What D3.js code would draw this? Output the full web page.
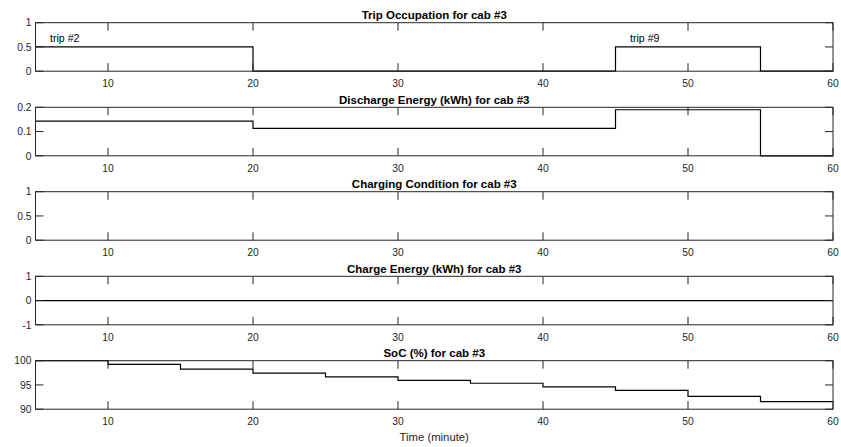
<!DOCTYPE html>
<html>
<head>
<meta charset="utf-8">
<script src="https://cdn.jsdelivr.net/npm/d3@7"></script>
<style>
  html, body { margin: 0; padding: 0; background: #fff; }
  svg { display: block; font-family: "Liberation Sans", Arial, sans-serif; }
</style>
</head>
<body>
<svg id="chart" width="841" height="447"></svg>
<script>
// Step start times (minutes); each value holds until the next time, last step ends at 60
const times = [5, 10, 15, 20, 25, 30, 35, 40, 45, 50, 55, 60];
const tripOccupation = [0.5, 0.5, 0.5, 0, 0, 0, 0, 0, 0.5, 0.5, 0, 0];
const dischargeEnergy = [0.143, 0.143, 0.143, 0.113, 0.113, 0.113, 0.113, 0.113, 0.19, 0.19, 0, 0];
const chargingCondition = [0, 0, 0, 0, 0, 0, 0, 0, 0, 0, 0, 0];
const chargeEnergy = [0, 0, 0, 0, 0, 0, 0, 0, 0, 0, 0, 0];
const soc = [100, 99.25, 98.25, 97.45, 96.65, 95.95, 95.35, 94.6, 93.9, 92.65, 91.55, 91.55];

const titles = [
  "Trip Occupation for cab #3",
  "Discharge Energy (kWh) for cab #3",
  "Charging Condition for cab #3",
  "Charge Energy (kWh) for cab #3",
  "SoC (%) for cab #3"
];
const yDomains = [[0, 1], [0, 0.2], [0, 1], [-1, 1], [90, 100]];
const yTicks = [[0, 0.5, 1], [0, 0.1, 0.2], [0, 0.5, 1], [-1, 0, 1], [90, 95, 100]];
const xTicks = [10, 20, 30, 40, 50, 60];
const tripLabels = ["trip #2", "trip #9"];
const tripLabelAt = [[6.0, 0.69], [46.0, 0.69]];

const series = [tripOccupation, dischargeEnergy, chargingCondition, chargeEnergy, soc];
const drawSeries = [true, true, false, true, true];

const svg = d3.select("#chart");
const left = 35.5, right = 833;
const panelTops = [22.7, 107.3, 191.7, 276.3, 360.7];
const panelH = 48.5;
const tickLen = 8;
const tickFont = 10.3, labelFont = 11.3, titleFont = 11.5, textFont = 10.6;

const x = d3.scaleLinear().domain([5, 60]).range([left, right]);

panelTops.forEach((top, i) => {
  const y = d3.scaleLinear().domain(yDomains[i]).range([top + panelH, top]);
  const g = svg.append("g");

  // Step line
  if (drawSeries[i]) {
    const pts = [];
    const vals = series[i];
    for (let k = 0; k < times.length - 1; k++) {
      pts.push([times[k], vals[k]]);
      pts.push([times[k + 1], vals[k]]);
    }
    const line = d3.line().x(d => x(d[0])).y(d => y(d[1]));
    g.append("path")
      .attr("d", line(pts))
      .attr("fill", "none")
      .attr("stroke", "#000")
      .attr("stroke-width", 1.2);
  }

  // Inward ticks, top and bottom
  const xt = g.append("g");
  xTicks.forEach(t => {
    xt.append("line").attr("x1", x(t)).attr("x2", x(t))
      .attr("y1", top + panelH).attr("y2", top + panelH - tickLen)
      .attr("stroke", "#262626").attr("stroke-width", 1);
    xt.append("line").attr("x1", x(t)).attr("x2", x(t))
      .attr("y1", top).attr("y2", top + tickLen)
      .attr("stroke", "#262626").attr("stroke-width", 1);
    xt.append("text").attr("x", x(t)).attr("y", top + panelH + 16)
      .attr("text-anchor", "middle").attr("font-size", tickFont).attr("fill", "#262626")
      .text(t);
  });

  yTicks[i].forEach(t => {
    g.append("line").attr("x1", left).attr("x2", left + tickLen)
      .attr("y1", y(t)).attr("y2", y(t)).attr("stroke", "#262626");
    g.append("line").attr("x1", right).attr("x2", right - tickLen)
      .attr("y1", y(t)).attr("y2", y(t)).attr("stroke", "#262626");
    g.append("text").attr("x", left - 4).attr("y", y(t) + 3.7)
      .attr("text-anchor", "end").attr("font-size", tickFont).attr("fill", "#262626")
      .text(t);
  });

  // Axes box
  g.append("rect").attr("x", left).attr("y", top)
    .attr("width", right - left).attr("height", panelH)
    .attr("fill", "none").attr("stroke", "#262626").attr("stroke-width", 1);

  // Title
  g.append("text").attr("x", (left + right) / 2).attr("y", top - 3.8)
    .attr("text-anchor", "middle").attr("font-size", titleFont).attr("font-weight", "bold")
    .attr("fill", "#000").text(titles[i]);

  if (i === 0) {
    tripLabels.forEach((lab, j) => {
      g.append("text").attr("x", x(tripLabelAt[j][0])).attr("y", y(tripLabelAt[j][1]) + 4)
        .attr("font-size", textFont).attr("fill", "#000").text(lab);
    });
  }
});

svg.append("text").attr("x", (left + right) / 2).attr("y", 440.5)
  .attr("text-anchor", "middle").attr("font-size", labelFont).attr("fill", "#262626")
  .text("Time (minute)");
</script>
</body>
</html>
